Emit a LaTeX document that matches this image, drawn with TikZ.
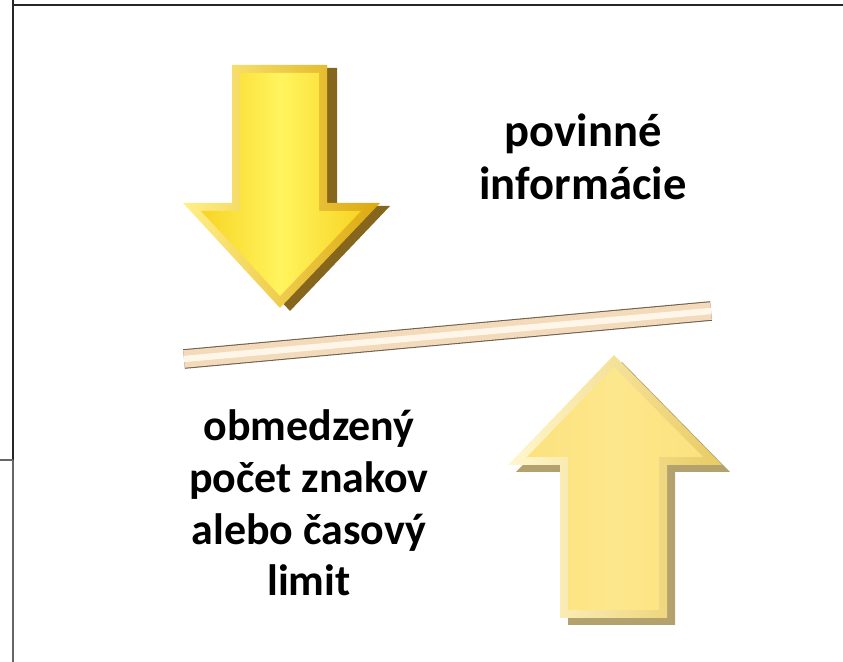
\documentclass[tikz,border=0pt]{standalone}
\usepackage{fontspec}
\setmainfont{Carlito}
\usepackage{tikz}

\definecolor{goldlite}{HTML}{FFF45E}
\definecolor{goldmid}{HTML}{F8D424}
\definecolor{goldrim}{HTML}{DDA80E}
\definecolor{goldrimlite}{HTML}{FFF08A}
\definecolor{goldside}{HTML}{86661C}
\definecolor{paleface}{HTML}{FDE78C}
\definecolor{palemid}{HTML}{FCE27E}
\definecolor{palerim}{HTML}{E9CB62}
\definecolor{palerimlite}{HTML}{FFF7CF}
\definecolor{paleside}{HTML}{B4A26E}
\definecolor{barbeige}{HTML}{F2DABA}
\definecolor{barlite}{HTML}{FFF6EA}
\definecolor{bardark}{HTML}{6E5E4E}

\begin{document}
\begin{tikzpicture}[x=0.02cm,y=-0.02cm]
\useasboundingbox (0,0) rectangle (843,662);
\tikzstyle{Frame}=[line width=1.1pt,black!85]
\tikzstyle{Thin}=[line width=0.9pt,black!60]
\tikzstyle{Label}=[align=center,inner sep=0pt,font=\bfseries\fontsize{25}{29.5}\selectfont]

\draw[Frame] (13,5) -- (843,5);
\draw[Frame,line width=1.6pt] (13,0) -- (13,460);
\draw[Thin] (13,460) -- (13,662);
\draw[Thin] (0,460) -- (13,460);

\fill[goldside,shift={(10,3)}] (232,65) -- (327,65) -- (327,203) -- (380,203) -- (280,308) -- (183,203) -- (232,203) -- cycle;
\shade[left color=goldrimlite,right color=goldrim] (232,65) -- (327,65) -- (327,203) -- (380,203) -- (280,308) -- (183,203) -- (232,203) -- cycle;
\shade[left color=goldmid,right color=goldmid,middle color=goldlite] (240,73) -- (319,73) -- (319,211) -- (361,211) -- (280,296) -- (201,211) -- (240,211) -- cycle;

\fill[paleside,shift={(8,7)}] (614,355) -- (722,465) -- (667,465) -- (667,618) -- (560,618) -- (560,465) -- (508,465) -- cycle;
\shade[left color=palerimlite,right color=palerim] (614,355) -- (722,465) -- (667,465) -- (667,618) -- (560,618) -- (560,465) -- (508,465) -- cycle;
\shade[left color=palemid,right color=palemid,middle color=paleface] (614,367) -- (703,457) -- (659,457) -- (659,610) -- (568,610) -- (568,457) -- (527,457) -- cycle;

\coordinate (barL) at (184,359);
\coordinate (barR) at (711,311);
\draw[bardark,line width=11.2pt] (barL) -- (barR);
\draw[barbeige,line width=10pt,yshift=0.4pt] (barL) -- (barR);
\draw[barlite,line width=3.6pt,yshift=2.4pt] (barL) -- (barR);

\node[Label,font=\bfseries\fontsize{26.5}{30}\selectfont] (duties) at (583,157) {povinné\\informácie};
\node[Label] (limits) at (309,503) {obmedzený\\počet znakov\\alebo časový\\limit};
\end{tikzpicture}
\end{document}
